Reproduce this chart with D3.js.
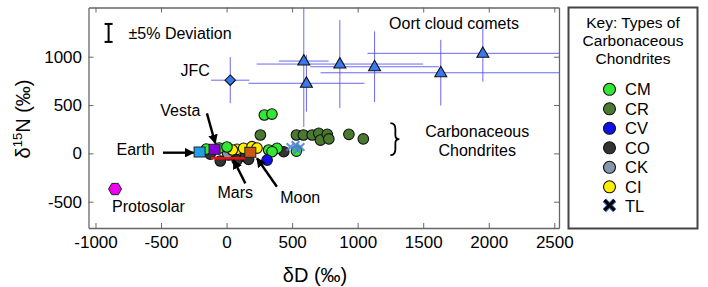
<!DOCTYPE html>
<html><head><meta charset="utf-8">
<script src="https://cdn.jsdelivr.net/npm/d3@7"></script>
<style>
body{margin:0;background:#fff;}
text{font-family:"Liberation Sans",Arial,sans-serif;}
</style></head>
<body><svg id="c" width="708" height="287"></svg>
<script>
// ---- data (δD ‰, δ15N ‰) ----
const xTicks = [-1000,-500,0,500,1000,1500,2000,2500];
const yTicks = [-500,0,500,1000];
const cmPts = [[288,397],[346,407],[-155,45],[-56,55],[3,66],[321,35],[385,52],[347,17],[533,24]];
const crPts = [[258,190],[533,190],[586,190],[653,190],[703,207],[716,138],[768,197],[780,149],[933,197],[1043,149]];
const cvPts = [[309,-69]];
const coPts = [[-125,-7],[-48,-79],[15,-17],[80,-69],[143,-35],[168,-62],[436,17]];
const ckPts = [[8,0]];
const ciPts = [[80,42],[130,52],[194,69],[232,55],[44,35]];
const tlPts = [[487,66],[526,86],[564,66],[541,35]];
const oortD = [589,609,864,1129,1634,1955];
const oortN = [955,725,924,896,834,1035];
const oortDErr = [190,442,635,490,917,880];
const oortNErr = [682,294,455,366,340,293];
const jfc = {d:28, n:757, dErr:146, nErr:238};
const earth = [-206,14], vesta = [-92,42], moon = [181,11], protosolar = [-851,-369];
const marsRange = [[-119,-51],[143,-51]];
const legendTypes = ["CM","CR","CV","CO","CK","CI","TL"];
const legendColors = ["#33e833","#4a7a2f","#1010ee","#333333","#8596ab","#ffee00","#4d7fd6"];

// ---- layout ----
const L=88.5,R=559,T=7.5,B=228;
const x = d3.scaleLinear().domain([-1053.4,2535.9]).range([L,R]);
const y = d3.scaleLinear().domain([-772,1509]).range([B,T]);
const col = {}; legendTypes.forEach((t,i)=>col[t]=legendColors[i]);
const svg = d3.select("#c");
const F = '"Liberation Sans",Arial,sans-serif';
const fmt = d => String(d);

svg.append("defs").append("clipPath").attr("id","clip")
  .append("rect").attr("x",L).attr("y",T).attr("width",R-L).attr("height",B-T);
svg.select("defs").append("marker").attr("id","ah").attr("viewBox","0 0 10 10")
  .attr("refX",9).attr("refY",5).attr("markerWidth",4).attr("markerHeight",4).attr("orient","auto")
  .append("path").attr("d","M0,0L10,5L0,10z").attr("fill","#000");

// axes
const axColor="#666";
function styleAxis(g){g.select(".domain").attr("stroke",axColor).attr("stroke-width",1.3);
  g.selectAll(".tick line").attr("stroke",axColor).attr("stroke-width",1);
  g.selectAll("text").attr("font-size",17).attr("fill","#000").attr("font-family",F);}
svg.append("g").attr("transform",`translate(0,${B})`)
  .call(d3.axisBottom(x).tickValues(xTicks).tickSizeInner(-5).tickSizeOuter(0).tickPadding(8).tickFormat(fmt))
  .call(styleAxis);
svg.append("g").attr("transform",`translate(0,${T})`)
  .call(d3.axisTop(x).tickValues(xTicks).tickSizeInner(-5).tickSizeOuter(0).tickFormat(""))
  .call(styleAxis);
svg.append("g").attr("transform",`translate(${L},0)`)
  .call(d3.axisLeft(y).tickValues(yTicks).tickSizeInner(-5).tickSizeOuter(0).tickPadding(6.5).tickFormat(fmt))
  .call(styleAxis);
svg.append("g").attr("transform",`translate(${R},0)`)
  .call(d3.axisRight(y).tickValues(yTicks).tickSizeInner(-5).tickSizeOuter(0).tickFormat(""))
  .call(styleAxis);

// axis titles
svg.append("text").attr("x",315).attr("y",282).attr("text-anchor","middle").attr("font-size",20).text("δD (‰)");
const yt = svg.append("text").attr("transform","translate(30,119) rotate(-90)").attr("text-anchor","middle").attr("font-size",20);
yt.append("tspan").text("δ");
yt.append("tspan").attr("font-size",13).attr("dy",-8).text("15");
yt.append("tspan").attr("dy",8).text("N (‰)");

const plot = svg.append("g").attr("clip-path","url(#clip)");

// error bars
const eb = plot.append("g").attr("stroke","#4f4fee").attr("stroke-width",1).attr("stroke-opacity",0.85);
oortD.forEach((d,i)=>{
  eb.append("line").attr("x1",x(d-oortDErr[i])).attr("x2",x(d+oortDErr[i])).attr("y1",y(oortN[i])).attr("y2",y(oortN[i]));
  eb.append("line").attr("x1",x(d)).attr("x2",x(d)).attr("y1",y(oortN[i]-oortNErr[i])).attr("y2",y(oortN[i]+oortNErr[i]));
});
eb.append("line").attr("x1",x(jfc.d-jfc.dErr)).attr("x2",x(jfc.d+jfc.dErr)).attr("y1",y(jfc.n)).attr("y2",y(jfc.n));
eb.append("line").attr("x1",x(jfc.d)).attr("x2",x(jfc.d)).attr("y1",y(jfc.n-jfc.nErr)).attr("y2",y(jfc.n+jfc.nErr));

// chondrites
function circles(pts,c){plot.append("g").selectAll("circle").data(pts).join("circle")
  .attr("cx",d=>x(d[0])).attr("cy",d=>y(d[1])).attr("r",5.3).attr("fill",c).attr("stroke","#111").attr("stroke-width",1.1);}
circles(coPts,col.CO); circles(ckPts,col.CK); circles(ciPts,col.CI); circles(cmPts,col.CM);
circles(crPts,col.CR); circles(cvPts,col.CV);
// TL crosses
const xs = d3.symbol().type(d3.symbolX).size(40);
plot.append("g").selectAll("path").data(tlPts).join("path")
  .attr("transform",d=>`translate(${x(d[0])},${y(d[1])})`).attr("d",xs)
  .attr("stroke",col.TL).attr("stroke-width",2.2).attr("fill","none").attr("opacity",0.85);

// Mars line
plot.append("line").attr("x1",x(marsRange[0][0])).attr("x2",x(marsRange[1][0]))
  .attr("y1",y(marsRange[0][1])).attr("y2",y(marsRange[1][1])).attr("stroke","#ee1111").attr("stroke-width",2.5);

// squares
function sq(p,c){plot.append("rect").attr("x",x(p[0])-5.5).attr("y",y(p[1])-5).attr("width",11).attr("height",10)
  .attr("fill",c).attr("stroke","#222").attr("stroke-width",1);}
sq(earth,"#1ea0e8"); sq(vesta,"#8a00d8"); sq(moon,"#c85a10");

// protosolar hexagon
const hex = d3.range(6).map(i=>{const a=Math.PI/3*i; return [6.5*Math.cos(a),6.5*Math.sin(a)];});
plot.append("path").attr("transform",`translate(${x(protosolar[0])},${y(protosolar[1])})`)
  .attr("d","M"+hex.join("L")+"Z").attr("fill","#ee00ee").attr("stroke","#222").attr("stroke-width",1);

// comets
const tri = d3.symbol().type(d3.symbolTriangle).size(62);
plot.append("g").selectAll("path").data(oortD).join("path")
  .attr("transform",(d,i)=>`translate(${x(d)},${y(oortN[i])+0.5})`).attr("d",tri)
  .attr("fill","#3a78ee").attr("stroke","#111").attr("stroke-width",1.1);
plot.append("path").attr("transform",`translate(${x(jfc.d)},${y(jfc.n)})`)
  .attr("d",d3.symbol().type(d3.symbolDiamond2).size(70)).attr("fill","#3a78ee").attr("stroke","#111").attr("stroke-width",1.1);

// annotations (data coords)
const ann = svg.append("g").attr("font-size",16).attr("fill","#000");
function lab(t,d,n,anchor){ann.append("text").attr("x",x(d)).attr("y",y(n)).attr("dy","0.35em").attr("text-anchor",anchor||"middle").text(t);}
lab("Earth",-694,42); lab("Vesta",-353,448); lab("Mars",66,-400); lab("Moon",562,-452);
lab("Protosolar",-874,-545,"start"); lab("JFC",-239,862); lab("Oort cloud comets",1735,1345);
lab("Carbonaceous",1912,224); lab("Chondrites",1912,35);
lab("±5% Deviation",-748,1245,"start");
function arrow(a,b){svg.append("line").attr("x1",x(a[0])).attr("y1",y(a[1])).attr("x2",x(b[0])).attr("y2",y(b[1]))
  .attr("stroke","#000").attr("stroke-width",2.4).attr("marker-end","url(#ah)");}
arrow([-485,7],[-252,7]); arrow([-150,414],[-86,104]); arrow([143,-310],[53,-69]); arrow([384,-345],[232,-51]);
// brace
const bx=x(1280), by=y(147);
svg.append("path").attr("d",`M${bx-4},${by-16} Q${bx+1},${by-16} ${bx+1},${by-10} L${bx+1},${by-4} Q${bx+1},${by} ${bx+5},${by} Q${bx+1},${by} ${bx+1},${by+4} L${bx+1},${by+10} Q${bx+1},${by+16} ${bx-4},${by+16}`)
  .attr("fill","none").attr("stroke","#000").attr("stroke-width",1.8);
// ±5% icon
const ix=x(-900);
const ic = svg.append("g").attr("stroke","#000").attr("stroke-width",2);
ic.append("line").attr("x1",ix).attr("x2",ix).attr("y1",y(1339)).attr("y2",y(1153));
ic.append("line").attr("x1",ix-4).attr("x2",ix+4).attr("y1",y(1339)).attr("y2",y(1339));
ic.append("line").attr("x1",ix-4).attr("x2",ix+4).attr("y1",y(1153)).attr("y2",y(1153));

// legend
const lg = svg.append("g");
lg.append("rect").attr("x",568.5).attr("y",7.5).attr("width",129).attr("height",221).attr("fill","#fff")
  .attr("stroke","#444").attr("stroke-width",2);
["Key: Types of","Carbonaceous","Chondrites"].forEach((t,i)=>lg.append("text").attr("x",633).attr("y",28+i*17.8)
  .attr("text-anchor","middle").attr("font-size",15.5).text(t));
legendTypes.forEach((t,i)=>{
  const cy=89.3+i*19.5, cx=609.5;
  if(t==="TL"){
    lg.append("path").attr("transform",`translate(${cx},${cy-1})`).attr("d",d3.symbol().type(d3.symbolX).size(70))
      .attr("stroke",col.TL).attr("stroke-width",5).attr("fill","none");
    lg.append("path").attr("transform",`translate(${cx},${cy-1})`).attr("d",d3.symbol().type(d3.symbolX).size(70))
      .attr("stroke","#000").attr("stroke-width",3).attr("fill","none");
  } else {
    lg.append("circle").attr("cx",cx).attr("cy",cy).attr("r",6).attr("fill",legendColors[i]).attr("stroke","#111").attr("stroke-width",1.1);
  }
  lg.append("text").attr("x",625).attr("y",cy).attr("dy","0.35em").attr("font-size",16.5).text(t);
});
</script></body></html>
